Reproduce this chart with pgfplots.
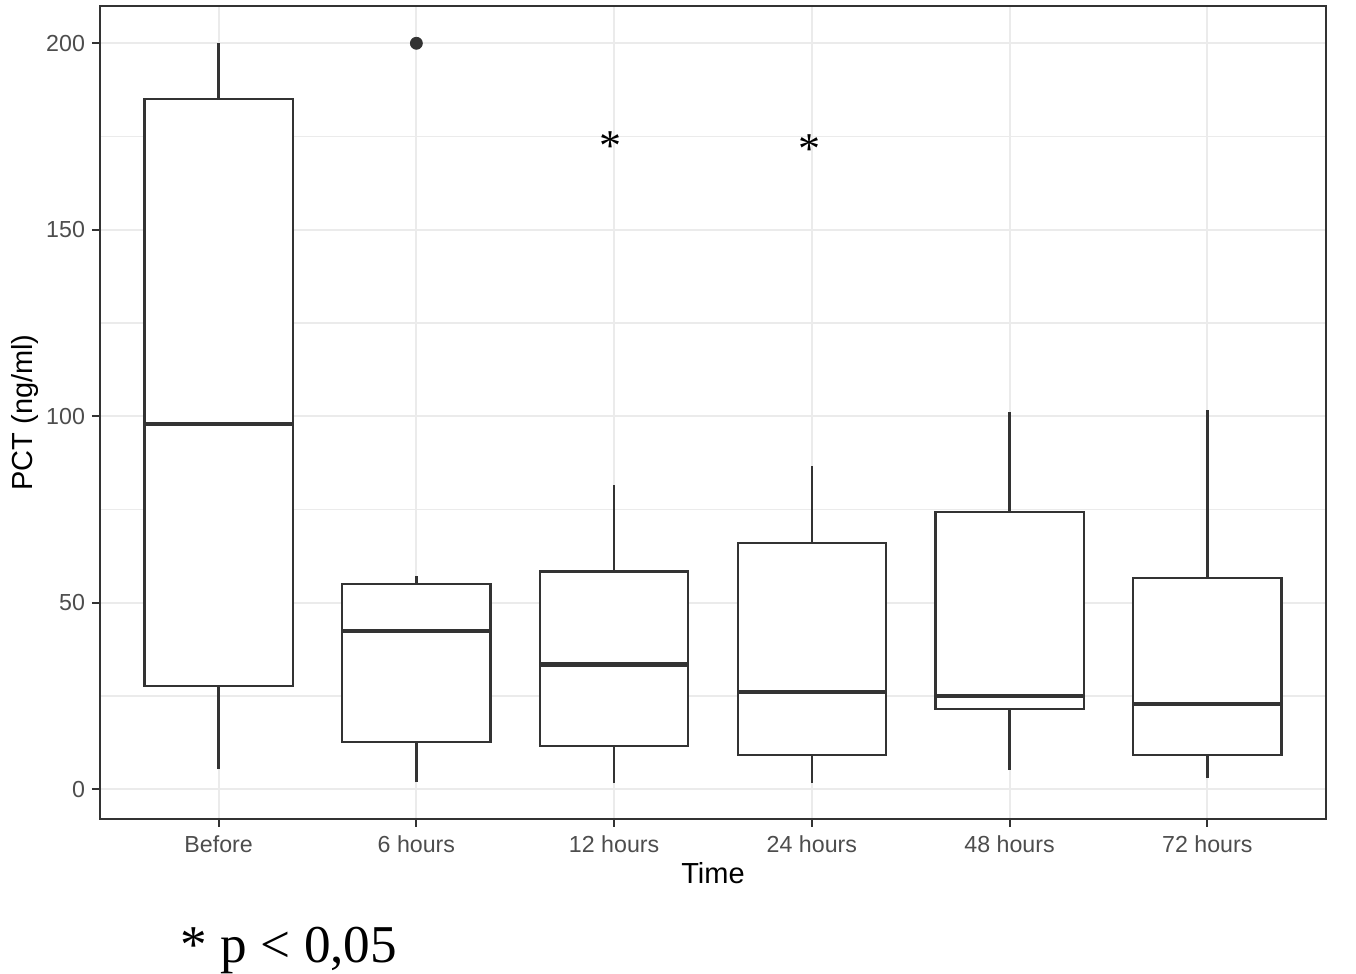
\documentclass[border=0pt]{standalone}
\usepackage{fontspec}
\setmainfont{Liberation Sans}
\newfontfamily\timesfont{Liberation Serif}
\usepackage{pgfplots}
\pgfplotsset{compat=1.18}
\definecolor{gridc}{HTML}{EBEBEB}
\definecolor{dark}{HTML}{333333}
\definecolor{ticklab}{HTML}{4D4D4D}
% one box: position, lower whisker, Q1, median, Q3, upper whisker
\newcommand{\BOX}[6]{%
  \pgfmathsetmacro{\xl}{#1-0.375}%
  \pgfmathsetmacro{\xr}{#1+0.375}%
  \addplot[dark, line width=1.15pt] coordinates {(#1,#2) (#1,#3)};
  \addplot[dark, line width=1.15pt] coordinates {(#1,#5) (#1,#6)};
  \addplot[dark, line width=1.15pt, fill=white] coordinates {(\xl,#3) (\xr,#3) (\xr,#5) (\xl,#5)} -- cycle;
  \addplot[dark, line width=2.3pt] coordinates {(\xl,#4) (\xr,#4)};
}
\begin{document}
\begin{tikzpicture}
\begin{axis}[
  scale only axis, width=613pt, height=406.5pt,
  xmin=-0.6, xmax=5.6, ymin=-8, ymax=210,
  xtick={0,1,2,3,4,5},
  xticklabels={Before,6 hours,12 hours,24 hours,48 hours,72 hours},
  ytick={0,50,100,150,200}, minor ytick={25,75,125,175},
  grid=both,
  major grid style={color=gridc, line width=1.1pt},
  minor grid style={color=gridc, line width=0.7pt},
  minor tick length=0pt,
  axis line style={dark, line width=0.8pt},
  tick align=outside, major tick length=4pt,
  tick style={dark, line width=0.9pt},
  xtick pos=left, ytick pos=left,
  tick label style={font=\fontsize{11.6}{13}\selectfont, text=ticklab},
  xticklabel style={yshift=-1pt},
  /pgf/number format/assume math mode=true,
  label style={font=\fontsize{14.5}{17}\selectfont},
  xlabel={Time}, ylabel={PCT (ng/ml)},
  xlabel style={at={(axis description cs:0.5,0)}, anchor=center, yshift=-27pt},
  ylabel style={at={(axis description cs:0,0.5)}, anchor=center, yshift=37.5pt},
]
\BOX{0}{5.4}{27.6}{97.9}{185}{200}
\BOX{1}{1.9}{12.6}{42.4}{55}{57.1}
\BOX{2}{1.6}{11.5}{33.5}{58.4}{81.5}
\BOX{3}{1.6}{9.1}{26.0}{66.0}{86.6}
\BOX{4}{5.1}{21.4}{25.0}{74.4}{101.1}
\BOX{5}{3.1}{9.2}{22.8}{56.6}{101.6}
\addplot[only marks, mark=*, mark size=3pt, dark, mark options={fill=dark}] coordinates {(1,200)};
\node[font=\timesfont\fontsize{22}{22}\selectfont, inner sep=0pt] at (axis cs:1.98,172.5) {*};
\node[font=\timesfont\fontsize{22}{22}\selectfont, inner sep=0pt] at (axis cs:2.99,171.7) {*};
\end{axis}
\node[font=\timesfont\fontsize{26.6}{28}\selectfont, anchor=base, inner sep=0pt] at (94.5pt,-72pt) {* p < 0,05};
\pgfresetboundingbox
\useasboundingbox (-50pt,-77.5pt) rectangle (628pt,409.5pt);
\end{tikzpicture}
\end{document}
